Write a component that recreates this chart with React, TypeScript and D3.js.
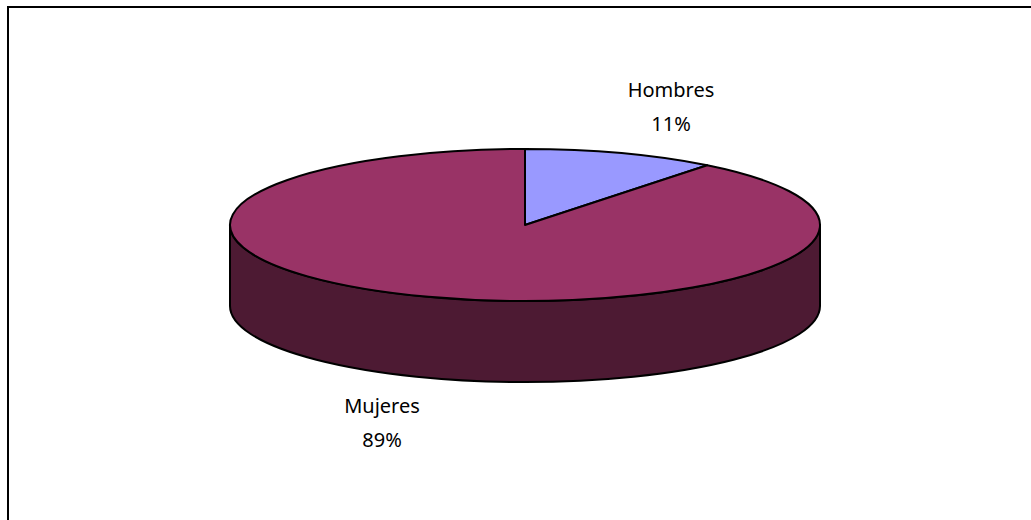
import { useEffect, useRef } from 'react';
import * as d3 from 'd3';

const categories = ['Hombres', 'Mujeres'];
const values = [10.6, 89.4];
const colors = ['#9999FF', '#993366'];
const wallColor = '#4D1A33';

export default function App() {
  const svgRef = useRef<SVGSVGElement>(null);

  useEffect(() => {
    if (!svgRef.current) return;

    const width = 1031;
    const height = 520;
    const cx = 525;
    const cy = 225;
    const rx = 295;
    const ry = 76;
    const depth = 81;

    const svg = d3.select(svgRef.current).attr('viewBox', `0 0 ${width} ${height}`);
    svg.selectAll('*').remove();

    svg.append('rect').attr('width', width).attr('height', height).attr('fill', '#fff');

    // Chart frame runs off the right and bottom of the page
    svg
      .append('rect')
      .attr('x', 8)
      .attr('y', 7)
      .attr('width', width + 20)
      .attr('height', height + 20)
      .attr('fill', 'none')
      .attr('stroke', '#000')
      .attr('stroke-width', 2);

    // Side wall of the disc
    svg
      .append('path')
      .attr('d', `M${cx - rx},${cy} A${rx},${ry} 0 0 0 ${cx + rx},${cy} V${cy + depth} A${rx},${ry} 0 0 1 ${cx - rx},${cy + depth} Z`)
      .attr('fill', wallColor)
      .attr('stroke', '#000')
      .attr('stroke-width', 2);

    // Top face: a circular pie flattened into an ellipse
    const pie = d3.pie<number>().sort(null);
    const arc = d3.arc<d3.PieArcDatum<number>>().innerRadius(0).outerRadius(rx);

    svg
      .append('g')
      .attr('transform', `translate(${cx},${cy}) scale(1,${ry / rx})`)
      .selectAll('path')
      .data(pie(values))
      .join('path')
      .attr('d', arc)
      .attr('fill', (_, i) => colors[i])
      .attr('stroke', '#000')
      .attr('stroke-width', 2)
      .attr('stroke-linejoin', 'round')
      .attr('vector-effect', 'non-scaling-stroke');

    // Data labels
    const labelPos = [
      { x: 671, y: 97 },
      { x: 382, y: 413 },
    ];
    const labels = svg
      .append('g')
      .attr('font-family', '"Noto Sans", sans-serif')
      .attr('font-size', 20)
      .attr('fill', '#000')
      .attr('text-anchor', 'middle');

    categories.forEach((name, i) => {
      labels.append('text').attr('x', labelPos[i].x).attr('y', labelPos[i].y).text(name);
      labels
        .append('text')
        .attr('x', labelPos[i].x)
        .attr('y', labelPos[i].y + 34)
        .text(`${Math.round(values[i])}%`);
    });
  }, []);

  return (
    <svg
      ref={svgRef}
      width={1031}
      height={520}
      style={{ position: 'absolute', left: 0, top: 0, display: 'block' }}
    />
  );
}
